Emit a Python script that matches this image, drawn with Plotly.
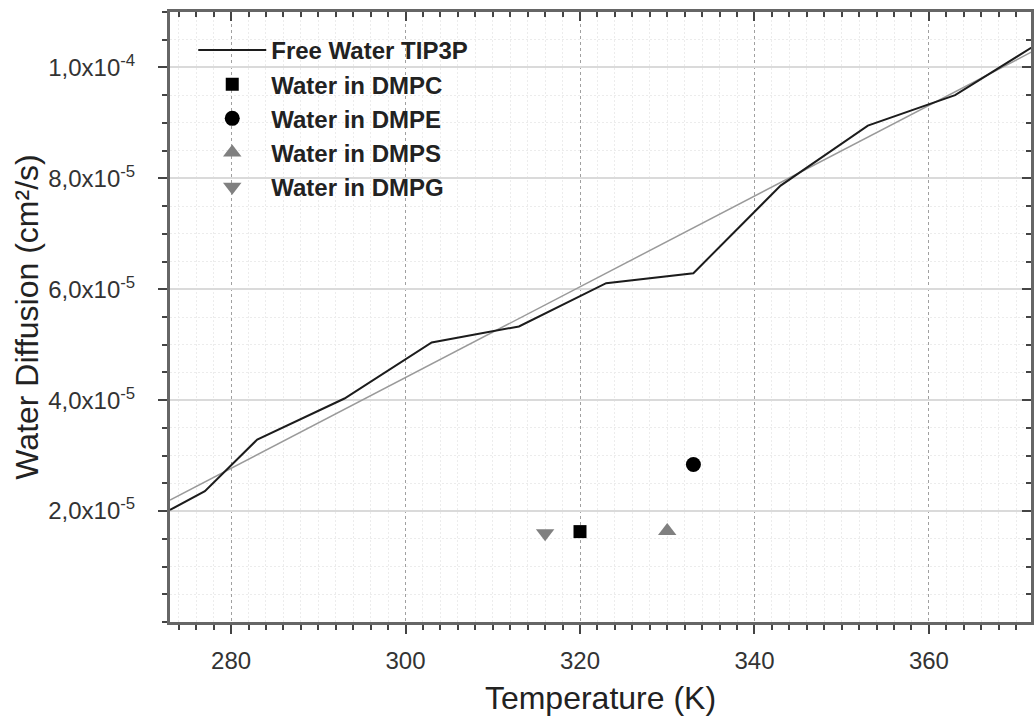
import plotly.graph_objects as go

# ---- data ----
temp_free = [273, 277, 283, 293, 303, 313, 323, 333, 343, 353, 363, 373]
diff_free = [2.02e-5, 2.36e-5, 3.29e-5, 4.03e-5, 5.04e-5, 5.33e-5,
             6.11e-5, 6.29e-5, 7.87e-5, 8.95e-5, 9.50e-5, 1.048e-4]

fit_temp = [273, 373]
fit_diff = [2.20e-5, 1.038e-4]

dmpc_temp, dmpc_diff = [320], [1.63e-5]
dmpe_temp, dmpe_diff = [333], [2.84e-5]
dmps_temp, dmps_diff = [330], [1.64e-5]
dmpg_temp, dmpg_diff = [316], [1.60e-5]

y_tickvals = [2e-5, 4e-5, 6e-5, 8e-5, 1e-4]
y_ticktext = ["2,0x10<sup>-5</sup>", "4,0x10<sup>-5</sup>", "6,0x10<sup>-5</sup>",
              "8,0x10<sup>-5</sup>", "1,0x10<sup>-4</sup>"]

x_range = [273, 371.7]
y_range = [0, 1.1e-4]

FONT = "Liberation Sans, Arial, sans-serif"
AXIS_COL = "#666666"
TICK_COL = "#444444"

fig = go.Figure()

fig.add_trace(go.Scatter(x=fit_temp, y=fit_diff, mode="lines",
                         line=dict(color="#9a9a9a", width=1.5),
                         showlegend=False, hoverinfo="skip"))
fig.add_trace(go.Scatter(x=temp_free, y=diff_free, mode="lines",
                         name="Free Water TIP3P",
                         line=dict(color="#1c1c1c", width=2)))
fig.add_trace(go.Scatter(x=dmpc_temp, y=dmpc_diff, mode="markers",
                         name="Water in DMPC",
                         marker=dict(symbol="square", size=13, color="#000000")))
fig.add_trace(go.Scatter(x=dmpe_temp, y=dmpe_diff, mode="markers",
                         name="Water in DMPE",
                         marker=dict(symbol="circle", size=15, color="#000000")))
fig.add_trace(go.Scatter(x=dmps_temp, y=dmps_diff, mode="markers",
                         name="Water in DMPS",
                         marker=dict(symbol="triangle-up", size=16, color="#808080")))
fig.add_trace(go.Scatter(x=dmpg_temp, y=dmpg_diff, mode="markers",
                         name="Water in DMPG",
                         marker=dict(symbol="triangle-down", size=16, color="#808080")))
# dummy trace to create the mirrored (top/right) axes with inward ticks
fig.add_trace(go.Scatter(x=[None], y=[None], xaxis="x2", yaxis="y2",
                         showlegend=False, hoverinfo="skip"))

fig.update_layout(
    width=1034, height=719,
    margin=dict(l=170, r=0, t=12, b=97),
    paper_bgcolor="white", plot_bgcolor="white",
    font=dict(family=FONT, color="#333333"),
    showlegend=True,
    legend=dict(x=0.027, y=0.974, xanchor="left", yanchor="top",
                bgcolor="rgba(0,0,0,0)", borderwidth=0,
                font=dict(family=FONT, size=24, color="#222222", weight="bold"),
                itemwidth=68),
    xaxis=dict(
        range=x_range, tick0=280, dtick=20,
        showline=True, linecolor=AXIS_COL, linewidth=3, mirror=True,
        ticks="outside", ticklen=9, tickwidth=2, tickcolor=TICK_COL,
        tickfont=dict(family=FONT, size=24, color="#333333"),
        ticklabelstandoff=6,
        showgrid=True, gridcolor="#a0a0a0", gridwidth=1, griddash="3px,3px",
        zeroline=False,
        minor=dict(dtick=2, tick0=280, ticks="outside", ticklen=5, tickwidth=2,
                   tickcolor=TICK_COL, showgrid=True, gridcolor="#ececec",
                   gridwidth=1, griddash="2px,2px"),
        title=dict(text="Temperature (K)",
                   font=dict(family=FONT, size=32, color="#222222"), standoff=14),
    ),
    yaxis=dict(
        range=y_range, tickmode="array", tickvals=y_tickvals, ticktext=y_ticktext,
        showline=True, linecolor=AXIS_COL, linewidth=3, mirror=True,
        ticks="outside", ticklen=9, tickwidth=2, tickcolor=TICK_COL,
        tickfont=dict(family=FONT, size=24, color="#333333"),
        ticklabelstandoff=18,
        showgrid=True, gridcolor="#dadada", gridwidth=1.5,
        zeroline=False,
        minor=dict(dtick=5e-6, tick0=0, ticks="outside", ticklen=5, tickwidth=2,
                   tickcolor=TICK_COL, showgrid=True, gridcolor="#ececec",
                   gridwidth=1, griddash="2px,2px"),
        title=dict(text="Water Diffusion (cm²/s)",
                   font=dict(family=FONT, size=32, color="#222222"), standoff=1),
    ),
    xaxis2=dict(
        overlaying="x", anchor="y", side="top", range=x_range, tick0=280, dtick=20,
        ticks="inside", ticklen=9, tickwidth=2, tickcolor=TICK_COL,
        showticklabels=False, showgrid=False, zeroline=False, showline=False,
        minor=dict(dtick=2, tick0=280, ticks="inside", ticklen=5, tickwidth=2,
                   tickcolor=TICK_COL, showgrid=False),
    ),
    yaxis2=dict(
        overlaying="y", anchor="x", side="right", range=y_range,
        tickmode="array", tickvals=y_tickvals,
        ticks="inside", ticklen=9, tickwidth=2, tickcolor=TICK_COL,
        showticklabels=False, showgrid=False, zeroline=False, showline=False,
        minor=dict(dtick=5e-6, tick0=0, ticks="inside", ticklen=5, tickwidth=2,
                   tickcolor=TICK_COL, showgrid=False),
    ),
)

fig.write_html("out.html")
